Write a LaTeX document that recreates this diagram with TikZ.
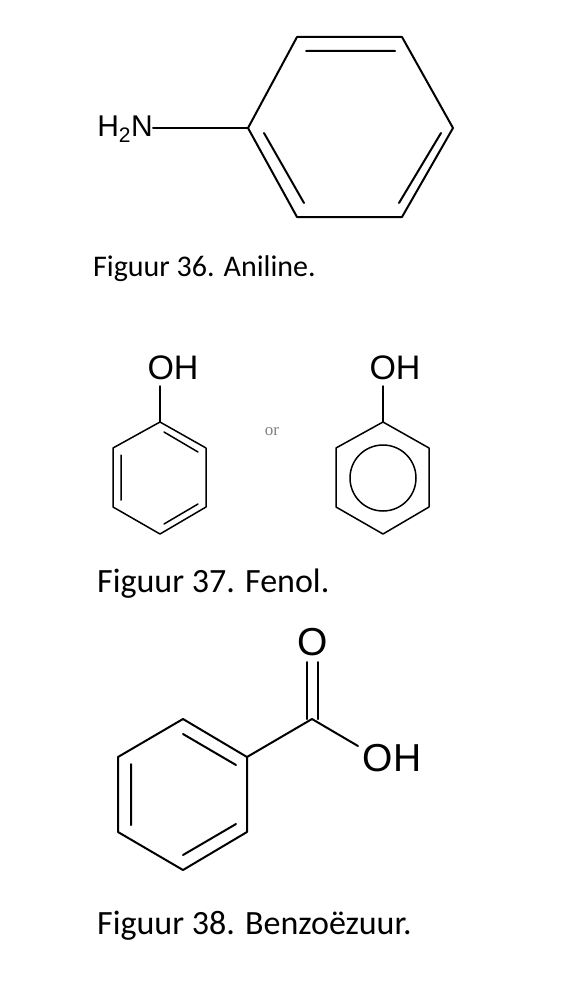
\documentclass[tikz,border=0pt]{standalone}
\usepackage{fontspec}
\setmainfont{Carlito}
\newfontfamily\arialf{Liberation Sans}
\newfontfamily\timesf{Liberation Serif}
\begin{document}
\begin{tikzpicture}[x=1pt,y=-1pt,
  bond/.style={line width=2pt,line cap=round,line join=round},
  captxt/.style={anchor=base west,inner sep=0pt,font=\fontsize{34}{38}\selectfont},
  lab/.style={inner sep=1pt,font=\arialf\fontsize{34}{36}\selectfont},
  lab2/.style={inner sep=1pt,font=\arialf\fontsize{39}{41}\selectfont}]
\useasboundingbox[fill=white] (0,0) rectangle (587,990);
% Aniline
\coordinate (a1) at (297,37); \coordinate (a2) at (402,37); \coordinate (a3) at (453,128);
\coordinate (a4) at (402,217); \coordinate (a5) at (297,217); \coordinate (a6) at (248,128);
\draw[bond] (a1)--(a2)--(a3)--(a4)--(a5)--(a6)--cycle;
\draw[bond] (306,51)--(395,51) (264,133)--(304,203) (441,133)--(399,203);
\node[inner sep=0pt,font=\arialf\fontsize{30}{32}\selectfont,anchor=east] (nh) at (153,129) {H\textsubscript{2}N};
\draw[bond] (153,128)--(a6);
\node[captxt,font=\fontsize{30}{34}\selectfont] (c36) at (93,276) {Figuur 36. Aniline.};
% Phenol 1
\coordinate (p1) at (160,422); \coordinate (p2) at (206,448); \coordinate (p3) at (206,507);
\coordinate (p4) at (160,534); \coordinate (p5) at (113,507); \coordinate (p6) at (113,448);
\draw[bond,line width=1.5pt] (p1)--(p2)--(p3)--(p4)--(p5)--(p6)--cycle;
\draw[bond,line width=1.5pt] (164,432)--(198,452) (121,455)--(121,500) (164,524)--(198,504);
\node[lab] (oh1) at (173,368) {OH};
\draw[bond,line width=1.5pt] (160,386)--(p1);
\node[font=\timesf\fontsize{17}{17}\selectfont,text=gray] (or) at (272,432) {or};
% Phenol 2
\coordinate (q1) at (383,422); \coordinate (q2) at (429,448); \coordinate (q3) at (429,507);
\coordinate (q4) at (383,534); \coordinate (q5) at (336,507); \coordinate (q6) at (336,448);
\draw[bond,line width=1.5pt] (q1)--(q2)--(q3)--(q4)--(q5)--(q6)--cycle;
\draw[line width=1.5pt] (383,478) circle (33);
\node[lab] (oh2) at (395,368) {OH};
\draw[bond,line width=1.5pt] (383,386)--(q1);
\node[captxt] (c37) at (97,592) {Figuur 37. Fenol.};
% Benzoic acid
\coordinate (b1) at (183,719); \coordinate (b2) at (247,757); \coordinate (b3) at (247,832);
\coordinate (b4) at (183,870); \coordinate (b5) at (118,832); \coordinate (b6) at (118,757);
\draw[bond] (b1)--(b2)--(b3)--(b4)--(b5)--(b6)--cycle;
\draw[bond] (183,734)--(236,765) (131,764)--(131,825) (183,855)--(236,824);
\coordinate (cc) at (312,719);
\draw[bond] (b2)--(cc)--(358,746);
\node[lab2] (o) at (313,642) {O};
\draw[bond] (307,662)--(307,719) (318,662)--(318,719);
\node[lab2] (oh3) at (392,758) {OH};
\node[captxt] (c38) at (97,934) {Figuur 38. Benzoëzuur.};
\end{tikzpicture}
\end{document}
